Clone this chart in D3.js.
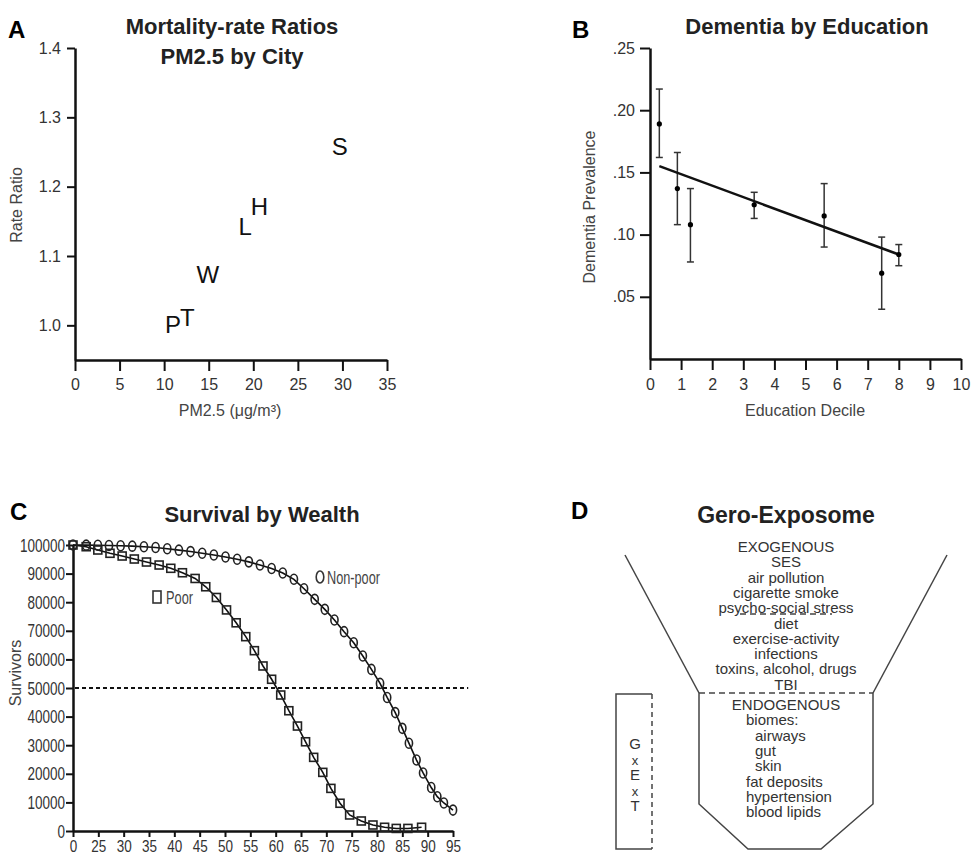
<!DOCTYPE html>
<html lang="en">
<head>
<meta charset="UTF-8">
<title>Gero-Exposome panels</title>
<style>
    body { margin: 0; background: #fff; }
    svg { display: block; font-family: "Liberation Sans", Arial, sans-serif; }
    .axis .domain { stroke: #111; stroke-width: 2.5; }
    .axis .tick line { stroke: #111; stroke-width: 2; }
    .axis .tick text { fill: #333; }
</style>
</head>
<body>
<script src="https://d3js.org/d3.v7.min.js"></script>
<script>
    const width = 971
    const height = 859

    // A: mortality-rate ratios by city
    const cityCodes = ['P', 'T', 'W', 'L', 'H', 'S']
    const cityPM = [11.0, 12.6, 14.9, 19.1, 20.7, 29.7]
    const cityRatio = [1.001, 1.012, 1.074, 1.143, 1.171, 1.258]
    const ticksA_x = [0, 5, 10, 15, 20, 25, 30, 35]
    const ticksA_y = [1.0, 1.1, 1.2, 1.3, 1.4]

    // B: dementia by education decile
    const eduDecile = [0.3, 0.88, 1.3, 3.35, 5.6, 7.45, 8.0]
    const eduPrev = [0.189, 0.137, 0.108, 0.124, 0.115, 0.069, 0.084]
    const eduLow = [0.162, 0.108, 0.078, 0.113, 0.090, 0.040, 0.075]
    const eduHigh = [0.217, 0.166, 0.137, 0.134, 0.141, 0.098, 0.092]
    const fitX = [0.3, 8.0]
    const fitY = [0.155, 0.084]
    const ticksB_x = [0, 1, 2, 3, 4, 5, 6, 7, 8, 9, 10]
    const ticksB_y = [0.05, 0.10, 0.15, 0.20, 0.25]

    // C: survival by wealth (first x tick is labelled 0)
    const ageNonPoor = [20, 22.6, 24.9, 27.1, 29.4, 31.7, 34.0, 36.3, 38.6, 40.9, 43.2, 45.5, 47.8, 50.1, 52.4, 54.7, 56.9, 59.2, 61.4, 63.6, 65.6, 67.7, 69.7, 71.6, 73.5, 75.4, 77.2, 78.9, 80.6, 82.0, 83.6, 85.0, 86.3, 87.8, 89.1, 90.7, 91.9, 93.2, 95.0]
    const survNonPoor = [100000, 99950, 99900, 99850, 99750, 99600, 99400, 99100, 98700, 98200, 97700, 97100, 96500, 95800, 95000, 94100, 93000, 91800, 90200, 88000, 84700, 81000, 77500, 73800, 69700, 65800, 61200, 56500, 51600, 46700, 41400, 35900, 30700, 24800, 20300, 15200, 12000, 9800, 7300]
    const agePoor = [20, 22.6, 24.9, 27.3, 29.7, 32.1, 34.5, 37.0, 39.3, 41.6, 44.1, 46.2, 48.3, 50.3, 52.2, 54.1, 55.8, 57.5, 59.2, 61.0, 62.6, 64.3, 65.9, 67.5, 69.3, 70.9, 72.7, 74.6, 76.9, 79.2, 81.5, 83.8, 86.1, 88.8]
    const survPoor = [100000, 99400, 98250, 97100, 96150, 95100, 94050, 93000, 91850, 90300, 88300, 85400, 81650, 77300, 72800, 67950, 63050, 57700, 53050, 47550, 42050, 36700, 31200, 25750, 20500, 14900, 9700, 5600, 3500, 2100, 1300, 900, 900, 1300]
    const ticksC_x = [20, 25, 30, 35, 40, 45, 50, 55, 60, 65, 70, 75, 80, 85, 90, 95]
    const ticksC_y = d3.range(0, 100001, 10000)
    const halfSurvival = 50000

    // D: gero-exposome funnel
    const exogenous = ['EXOGENOUS', 'SES', 'air pollution', 'cigarette smoke', 'psycho-social stress', 'diet', 'exercise-activity', 'infections', 'toxins, alcohol, drugs', 'TBI']
    const endogenous = [
        { t: 'ENDOGENOUS', indent: -1 },
        { t: 'biomes:', indent: 0 },
        { t: 'airways', indent: 1 },
        { t: 'gut', indent: 1 },
        { t: 'skin', indent: 1 },
        { t: 'fat deposits', indent: 0 },
        { t: 'hypertension', indent: 0 },
        { t: 'blood lipids', indent: 0 }
    ]
    const gxet = ['G', 'x', 'E', 'x', 'T']

    const svg = d3.select('body').append('svg')
        .attr('width', width)
        .attr('height', height)

    drawPanelA()
    drawPanelB()
    drawPanelC()
    drawPanelD()

    function title(x, y, txt, size) {
        svg.append('text')
            .attr('x', x).attr('y', y)
            .attr('text-anchor', 'middle')
            .attr('font-size', size || 22)
            .attr('font-weight', 'bold')
            .attr('fill', '#222')
            .text(txt)
    }

    function letter(x, y, txt) {
        svg.append('text')
            .attr('x', x).attr('y', y)
            .attr('font-size', 24)
            .attr('font-weight', 'bold')
            .attr('fill', '#000')
            .text(txt)
    }

    function axisLabel(x, y, txt, rotate) {
        svg.append('text')
            .attr('transform', `translate(${x},${y})` + (rotate ? ' rotate(-90)' : ''))
            .attr('text-anchor', 'middle')
            .attr('dominant-baseline', 'middle')
            .attr('font-size', 16)
            .attr('fill', '#444')
            .text(txt)
    }

    function drawPanelA() {
        const x = d3.scaleLinear().domain([0, 35]).range([75, 387])
        const y = d3.scaleLinear().domain([0.95, 1.4]).range([360, 48])

        svg.append('g').attr('class', 'axis')
            .attr('transform', 'translate(0,360)')
            .call(d3.axisBottom(x).tickValues(ticksA_x).tickSize(11).tickSizeOuter(0).tickPadding(8))
            .attr('font-size', 16)
        svg.append('g').attr('class', 'axis')
            .attr('transform', 'translate(75,0)')
            .call(d3.axisLeft(y).tickValues(ticksA_y).tickFormat(d3.format('.1f')).tickSize(8).tickSizeOuter(0).tickPadding(6))
            .attr('font-size', 16)

        svg.append('g')
            .selectAll('text')
            .data(cityCodes)
            .enter()
            .append('text')
            .attr('x', (_, i) => x(cityPM[i]))
            .attr('y', (_, i) => y(cityRatio[i]))
            .attr('text-anchor', 'middle')
            .attr('dominant-baseline', 'central')
            .attr('font-size', 24)
            .attr('fill', '#111')
            .text(d => d)

        title(232, 34, 'Mortality-rate Ratios')
        title(232, 64, 'PM2.5 by City')
        letter(8, 38, 'A')
        axisLabel(18, 205, 'Rate Ratio', true)
        axisLabel(230, 412, 'PM2.5 (μg/m³)')
    }

    function drawPanelB() {
        const x = d3.scaleLinear().domain([0, 10]).range([650, 961])
        const y = d3.scaleLinear().domain([0, 0.25]).range([359, 48])

        svg.append('g').attr('class', 'axis')
            .attr('transform', 'translate(0,359)')
            .call(d3.axisBottom(x).tickValues(ticksB_x).tickSize(11).tickSizeOuter(0).tickPadding(9))
            .attr('font-size', 16)
        svg.append('g').attr('class', 'axis')
            .attr('transform', 'translate(650,0)')
            .call(d3.axisLeft(y).tickValues(ticksB_y)
                .tickFormat(d => d3.format('.2f')(d).replace(/^0/, ''))
                .tickSize(10).tickSizeOuter(0).tickPadding(5))
            .attr('font-size', 16)

        const bars = svg.append('g').attr('stroke', '#333').attr('stroke-width', 1.5)
        eduDecile.forEach((d, i) => {
            bars.append('line')
                .attr('x1', x(d)).attr('x2', x(d))
                .attr('y1', y(eduLow[i])).attr('y2', y(eduHigh[i]))
            ;[eduLow[i], eduHigh[i]].forEach(v => {
                bars.append('line')
                    .attr('x1', x(d) - 3.5).attr('x2', x(d) + 3.5)
                    .attr('y1', y(v)).attr('y2', y(v))
            })
        })

        svg.append('path')
            .datum(fitX.map((d, i) => [d, fitY[i]]))
            .attr('d', d3.line().x(d => x(d[0])).y(d => y(d[1])))
            .attr('stroke', '#111')
            .attr('stroke-width', 2.5)
            .attr('fill', 'none')

        svg.append('g')
            .selectAll('circle')
            .data(eduDecile)
            .enter()
            .append('circle')
            .attr('cx', d => x(d))
            .attr('cy', (_, i) => y(eduPrev[i]))
            .attr('r', 2.6)
            .attr('fill', '#000')

        title(807, 34, 'Dementia by Education')
        letter(572, 38, 'B')
        axisLabel(591, 207, 'Dementia Prevalence', true)
        axisLabel(805, 412, 'Education Decile')
    }

    function narrow(sel, perChar) {
        sel.each(function () {
            const t = d3.select(this)
            t.attr('textLength', t.text().length * perChar).attr('lengthAdjust', 'spacingAndGlyphs')
        })
    }

    function drawPanelC() {
        const x = d3.scaleLinear().domain([20, 95]).range([73, 453])
        const y = d3.scaleLinear().domain([0, 100000]).range([831, 545])

        svg.append('line')
            .attr('x1', x(20) + 2).attr('x2', x(98))
            .attr('y1', y(halfSurvival)).attr('y2', y(halfSurvival))
            .attr('stroke', '#111')
            .attr('stroke-width', 2)
            .attr('stroke-dasharray', '4,3')

        const gx = svg.append('g').attr('class', 'axis')
            .attr('transform', 'translate(0,831)')
            .call(d3.axisBottom(x).tickValues(ticksC_x).tickFormat(d => d === 20 ? '0' : d)
                .tickSize(6).tickSizeOuter(0).tickPadding(3))
            .attr('font-size', 17)
        narrow(gx.selectAll('.tick text'), 7.5)

        const gy = svg.append('g').attr('class', 'axis')
            .attr('transform', 'translate(73,0)')
            .call(d3.axisLeft(y).tickValues(ticksC_y).tickFormat(d3.format('d'))
                .tickSize(7).tickSizeOuter(0).tickPadding(1))
            .attr('font-size', 19)
        narrow(gy.selectAll('.tick text'), 7.5)

        const line = d3.line().x(d => x(d[0])).y(d => y(d[1]))
        const nonPoor = ageNonPoor.map((d, i) => [d, survNonPoor[i]])
        const poor = agePoor.map((d, i) => [d, survPoor[i]])

        ;[nonPoor, poor].forEach(series => {
            svg.append('path')
                .datum(series)
                .attr('d', line)
                .attr('stroke', '#111')
                .attr('stroke-width', 1.6)
                .attr('fill', 'none')
        })

        svg.append('g')
            .selectAll('ellipse')
            .data(nonPoor)
            .enter()
            .append('ellipse')
            .attr('cx', d => x(d[0]))
            .attr('cy', d => y(d[1]))
            .attr('rx', 3.6).attr('ry', 5)
            .attr('fill', 'none')
            .attr('stroke', '#222')
            .attr('stroke-width', 1.6)

        svg.append('g')
            .selectAll('rect')
            .data(poor)
            .enter()
            .append('rect')
            .attr('x', d => x(d[0]) - 4)
            .attr('y', d => y(d[1]) - 4)
            .attr('width', 8).attr('height', 8)
            .attr('fill', 'none')
            .attr('stroke', '#222')
            .attr('stroke-width', 1.6)

        // legend labels
        svg.append('ellipse')
            .attr('cx', 320).attr('cy', 577).attr('rx', 3.8).attr('ry', 6)
            .attr('fill', 'none').attr('stroke', '#333').attr('stroke-width', 1.6)
        svg.append('text')
            .attr('x', 327).attr('y', 584)
            .attr('font-size', 18).attr('fill', '#444')
            .attr('textLength', 53).attr('lengthAdjust', 'spacingAndGlyphs')
            .text('Non-poor')
        svg.append('rect')
            .attr('x', 153).attr('y', 591).attr('width', 8).attr('height', 12)
            .attr('fill', 'none').attr('stroke', '#333').attr('stroke-width', 1.6)
        svg.append('text')
            .attr('x', 166).attr('y', 604)
            .attr('font-size', 18).attr('fill', '#444')
            .attr('textLength', 27).attr('lengthAdjust', 'spacingAndGlyphs')
            .text('Poor')

        title(262, 522, 'Survival by Wealth', 22)
        letter(10, 520, 'C')
        axisLabel(17, 673, 'Survivors', true)
    }

    function drawPanelD() {
        const g = svg.append('g')
            .attr('stroke', '#444')
            .attr('stroke-width', 1.5)
            .attr('fill', 'none')

        // funnel sides and lower container
        g.append('line').attr('x1', 625).attr('y1', 555).attr('x2', 699).attr('y2', 693)
        g.append('line').attr('x1', 947).attr('y1', 555).attr('x2', 873).attr('y2', 693)
        g.append('line').attr('x1', 699).attr('y1', 693).attr('x2', 873).attr('y2', 693)
            .attr('stroke-dasharray', '6,4')
        g.append('path').attr('d', 'M699,693 L699,804 L748,849 L821,849 L873,804 L873,693')
        g.append('line').attr('x1', 740).attr('y1', 614).attr('x2', 832).attr('y2', 614)
            .attr('stroke-dasharray', '6,4')

        // G x E x T box
        g.append('path').attr('d', 'M652,694 L616,694 L616,849 L652,849')
        g.append('line').attr('x1', 652).attr('y1', 694).attr('x2', 652).attr('y2', 849)
            .attr('stroke-dasharray', '5,4')

        svg.append('g')
            .selectAll('text')
            .data(exogenous)
            .enter()
            .append('text')
            .attr('x', 786)
            .attr('y', (_, i) => 552 + i * 15.3)
            .attr('text-anchor', 'middle')
            .attr('font-size', 15)
            .attr('fill', '#333')
            .text(d => d)

        svg.append('g')
            .selectAll('text')
            .data(endogenous)
            .enter()
            .append('text')
            .attr('x', d => d.indent < 0 ? 786 : 746 + d.indent * 9)
            .attr('y', (_, i) => 710 + i * 15.3)
            .attr('text-anchor', d => d.indent < 0 ? 'middle' : 'start')
            .attr('font-size', 15)
            .attr('fill', '#333')
            .text(d => d.t)

        svg.append('g')
            .selectAll('text')
            .data(gxet)
            .enter()
            .append('text')
            .attr('x', 635)
            .attr('y', (_, i) => 749 + i * 15.5)
            .attr('text-anchor', 'middle')
            .attr('font-size', d => d === 'x' ? 13 : 15)
            .attr('fill', '#333')
            .text(d => d)

        title(786, 523, 'Gero-Exposome', 23)
        letter(571, 519, 'D')
    }
</script>
</body>
</html>
